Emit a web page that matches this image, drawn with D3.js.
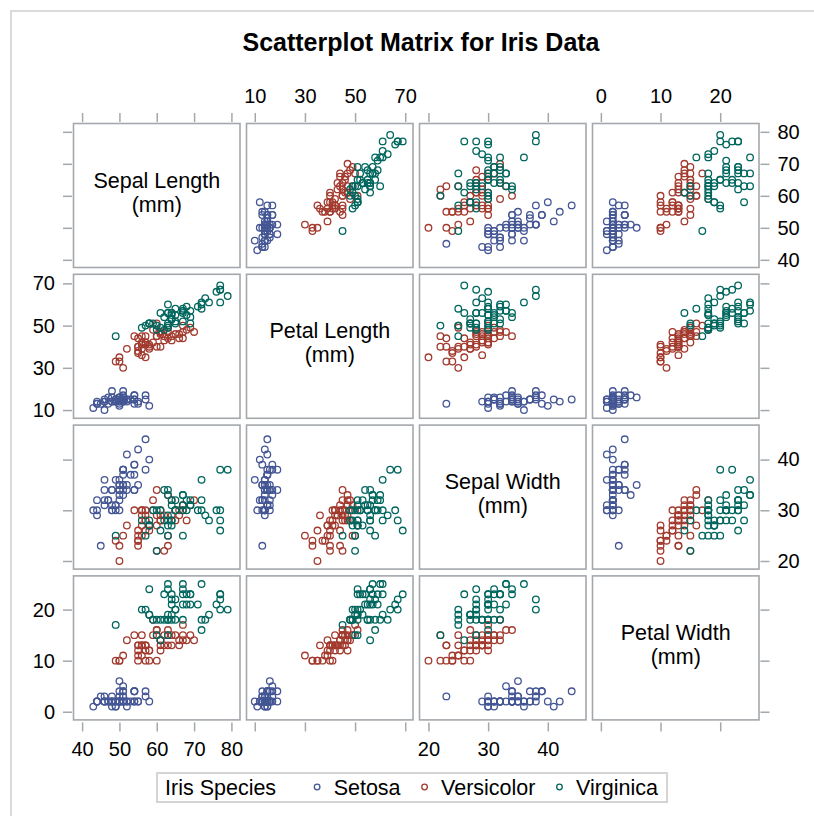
<!DOCTYPE html>
<html>
<head>
<meta charset="utf-8">
<script src="https://cdn.jsdelivr.net/npm/d3@7"></script>
<style>
  html, body { margin: 0; padding: 0; background: #fff; }
  text { font-family: "Liberation Sans", Arial, sans-serif; fill: #000; }
</style>
</head>
<body>
<script>
// ---------------- DATA (Fisher iris, mm) ----------------
const speciesNames = ["Setosa", "Versicolor", "Virginica"];
const speciesColors = ["#445694", "#A23A2E", "#01665E"];

// each array: [setosa values, versicolor values, virginica values]
const sepalLength = [
  [51,49,47,46,50,54,46,50,44,49,54,48,48,43,58,57,54,51,57,51,54,51,46,51,48,50,50,52,52,47,48,54,52,55,49,50,55,49,44,51,50,45,44,50,51,48,51,46,53,50],
  [70,64,69,55,65,57,63,49,66,52,50,59,60,61,56,67,56,58,62,56,59,61,63,61,64,66,68,67,60,57,55,55,58,60,54,60,67,63,56,55,55,61,58,50,56,57,57,62,51,57],
  [63,58,71,63,65,76,49,73,67,72,65,64,68,57,58,64,65,77,77,60,69,56,77,63,67,72,62,61,64,72,74,79,64,63,61,77,63,64,60,69,67,69,58,68,67,67,63,65,62,59]
];
const sepalWidth = [
  [35,30,32,31,36,39,34,34,29,31,37,34,30,30,40,44,39,35,38,38,34,37,36,33,34,30,34,35,34,32,31,34,41,42,31,32,35,36,30,34,35,23,32,35,38,30,38,32,37,33],
  [32,32,31,23,28,28,33,24,29,27,20,30,22,29,29,31,30,27,22,25,32,28,25,28,29,30,28,30,29,26,24,24,27,27,30,34,31,23,30,25,26,30,26,23,27,30,29,29,25,28],
  [33,27,30,29,30,30,25,29,25,36,32,27,30,25,28,32,30,38,26,22,32,28,28,27,33,32,28,30,28,30,28,38,28,28,26,30,34,31,30,31,31,31,27,32,33,30,25,30,34,30]
];
const petalLength = [
  [14,14,13,15,14,17,14,15,14,15,15,16,14,11,12,15,13,14,17,15,17,15,10,17,19,16,16,15,14,16,16,15,15,14,15,12,13,14,13,15,13,13,13,16,19,14,16,14,15,14],
  [47,45,49,40,46,45,47,33,46,39,35,42,40,47,36,44,45,41,45,39,48,40,49,47,43,44,48,50,45,35,38,37,39,51,45,45,47,44,41,40,44,46,40,33,42,42,42,43,30,41],
  [60,51,59,56,58,66,45,63,58,61,51,53,55,50,51,53,55,67,69,50,57,49,67,49,57,60,48,49,56,58,61,64,56,51,56,61,56,55,48,54,56,51,51,59,57,52,50,52,54,51]
];
const petalWidth = [
  [2,2,2,2,2,4,3,2,2,1,2,2,1,1,2,4,4,3,3,3,2,4,2,5,2,2,4,2,2,2,2,4,1,2,2,2,2,1,2,2,3,3,2,6,4,3,2,2,2,2],
  [14,15,15,13,15,13,16,10,13,14,10,15,10,14,13,14,15,10,15,11,18,13,15,12,13,14,14,17,15,10,11,10,12,16,15,16,15,13,13,13,12,14,12,10,13,12,13,13,11,13],
  [25,19,21,18,22,21,17,18,18,25,20,19,21,20,24,23,18,22,23,15,23,20,20,18,21,18,18,18,21,16,19,20,22,15,14,23,24,18,18,21,24,23,19,23,25,23,19,20,23,18]
];

// variable order in the matrix
const varLabels = [["Sepal Length", "(mm)"], ["Petal Length", "(mm)"], ["Sepal Width", "(mm)"], ["Petal Width", "(mm)"]];
const varValues = [sepalLength, petalLength, sepalWidth, petalWidth];
const varTicks = [[40,50,60,70,80], [10,30,50,70], [20,30,40], [0,10,20]];
// axis extents (with SAS offsets)
const xDomains = [[37.7, 82.3], [6.7, 73.1], [18.5, 46.4], [-1.4, 26.5]];
const yDomains = [[37.6, 82.6], [6.1, 74.3], [18.4, 46.8], [-1.6, 26.6]];

const titleText = "Scatterplot Matrix for Iris Data";
const legendTitle = "Iris Species";

// ---------------- LAYOUT ----------------
const W = 814, H = 816;
const cellX0 = 73.5, cellStepX = 173, cellW = 166.5;
const cellY0 = 123.5, cellStepY = 150.8, cellH = 144;
const frameColor = "#a4a8ac";
const tickLen = 9, tickGap = 1.5;
const n = varValues.length;

const svg = d3.select("body").append("svg").attr("width", W).attr("height", H);

svg.append("rect").attr("x", 11).attr("y", 11).attr("width", 840).attr("height", 840)
  .attr("fill", "none").attr("stroke", "#dadada").attr("stroke-width", 2);

svg.append("text").attr("x", 421).attr("y", 51).attr("text-anchor", "middle")
  .style("font-size", "25px").style("font-weight", "bold").text(titleText);

const xScales = d3.range(n).map(c => d3.scaleLinear().domain(xDomains[c])
  .range([cellX0 + c * cellStepX, cellX0 + c * cellStepX + cellW]));
const yScales = d3.range(n).map(r => d3.scaleLinear().domain(yDomains[r])
  .range([cellY0 + r * cellStepY + cellH, cellY0 + r * cellStepY]));

const gAxes = svg.append("g");
const tickStyle = sel => sel.selectAll(".tick line").attr("stroke", frameColor).attr("stroke-width", 1.5);
const fontSz = "20px";

for (let c = 0; c < n; c++) {
  const top = cellY0, bottom = cellY0 + (n - 1) * cellStepY + cellH;
  const gt = gAxes.append("g").attr("transform", `translate(0,${top - tickGap})`)
    .call(d3.axisTop(xScales[c]).tickValues(varTicks[c]).tickSize(tickLen).tickPadding(10)
      .tickFormat(c % 2 === 1 ? d3.format("d") : () => ""));
  const gb = gAxes.append("g").attr("transform", `translate(0,${bottom + tickGap + 1})`)
    .call(d3.axisBottom(xScales[c]).tickValues(varTicks[c]).tickSize(tickLen).tickPadding(10)
      .tickFormat(c % 2 === 0 ? d3.format("d") : () => ""));
  [gt, gb].forEach(g => {
    g.select(".domain").remove();
    tickStyle(g);
    g.selectAll(".tick text").style("font-size", fontSz).attr("font-family", null);
  });
}
for (let r = 0; r < n; r++) {
  const left = cellX0, right = cellX0 + (n - 1) * cellStepX + cellW;
  const gl = gAxes.append("g").attr("transform", `translate(${left - tickGap},0)`)
    .call(d3.axisLeft(yScales[r]).tickValues(varTicks[r]).tickSize(tickLen).tickPadding(8)
      .tickFormat(r % 2 === 1 ? d3.format("d") : () => ""));
  const gr = gAxes.append("g").attr("transform", `translate(${right + tickGap},0)`)
    .call(d3.axisRight(yScales[r]).tickValues(varTicks[r]).tickSize(tickLen).tickPadding(8)
      .tickFormat(r % 2 === 0 ? d3.format("d") : () => ""));
  [gl, gr].forEach(g => {
    g.select(".domain").remove();
    tickStyle(g);
    g.selectAll(".tick text").style("font-size", fontSz).attr("font-family", null);
  });
}
gAxes.selectAll(".tick text").attr("fill", "#000");

// cells
for (let r = 0; r < n; r++) {
  for (let c = 0; c < n; c++) {
    const x0 = cellX0 + c * cellStepX, y0 = cellY0 + r * cellStepY;
    const g = svg.append("g");
    g.append("rect").attr("x", x0).attr("y", y0).attr("width", cellW).attr("height", cellH)
      .attr("fill", "#fff").attr("stroke", frameColor).attr("stroke-width", 1.6);
    if (r === c) {
      const cx = x0 + cellW / 2, cy = y0 + cellH / 2;
      g.append("text").attr("x", cx).attr("y", cy - 8).attr("text-anchor", "middle")
        .style("font-size", "21.5px").text(varLabels[r][0]);
      g.append("text").attr("x", cx).attr("y", cy + 16).attr("text-anchor", "middle")
        .style("font-size", "21.5px").text(varLabels[r][1]);
    } else {
      speciesNames.forEach((sp, s) => {
        const xs = varValues[c][s], ys = varValues[r][s];
        g.append("g").selectAll("circle").data(d3.range(xs.length)).join("circle")
          .attr("cx", i => xScales[c](xs[i]))
          .attr("cy", i => yScales[r](ys[i]))
          .attr("r", 3.3)
          .attr("fill", "none")
          .attr("stroke", speciesColors[s])
          .attr("stroke-width", 1.3);
      });
    }
  }
}

// legend
const lg = svg.append("g");
const lgBox = lg.append("rect").attr("fill", "none").attr("stroke", "#d4d4d4").attr("stroke-width", 2);
const lgX = 157, lgY = 773, lgH = 29, baseY = 795;
const lgFont = "21.5px";
let cur = lgX + 8;
const t0 = lg.append("text").attr("x", cur).attr("y", baseY).style("font-size", lgFont).text(legendTitle);
cur += t0.node().getComputedTextLength() + 41;
speciesNames.forEach((sp, s) => {
  lg.append("circle").attr("cx", cur).attr("cy", baseY - 8).attr("r", 2.8)
    .attr("fill", "none").attr("stroke", speciesColors[s]).attr("stroke-width", 1.3);
  cur += 16.5;
  const t = lg.append("text").attr("x", cur).attr("y", baseY).style("font-size", lgFont).text(sp);
  cur += t.node().getComputedTextLength() + 24;
});
cur -= 24;
lgBox.attr("x", lgX).attr("y", lgY).attr("width", cur + 9 - lgX).attr("height", lgH);
</script>
</body>
</html>
